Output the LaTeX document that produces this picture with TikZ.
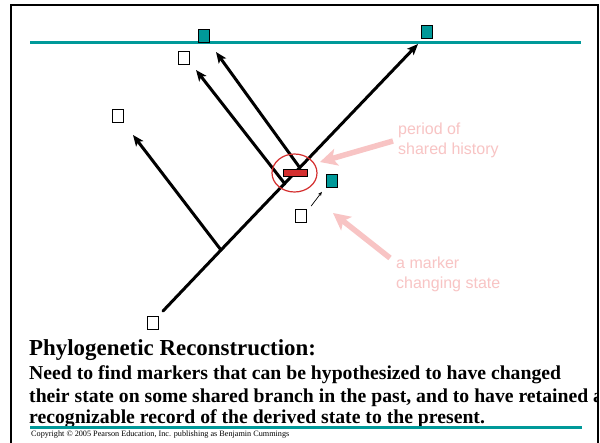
\documentclass[tikz,border=0pt]{standalone}
\usepackage{fontspec}
\setmainfont{Liberation Serif}
\newfontfamily\labelsans{Liberation Sans}
\usetikzlibrary{arrows.meta,calc}

\definecolor{slideteal}{HTML}{009999}
\definecolor{markred}{HTML}{D42F2F}
\definecolor{notepink}{HTML}{F8C4C4}

\tikzset{
  branch/.style={line width=3pt, line cap=round},
  branchtip/.style={branch, -{Stealth[length=11pt, width=9pt, inset=2.5pt]}},
  plainmark/.style={draw=black, fill=white, line width=1.3pt, minimum width=11pt, minimum height=12.5pt, inner sep=0pt},
  derivedmark/.style={plainmark, fill=slideteal},
  notearrow/.style={notepink, line width=5.5pt, -{Stealth[length=17pt, width=17pt, inset=4pt]}},
  notetext/.style={text=notepink, font=\labelsans\fontsize{16}{19}\selectfont, anchor=base west, inner sep=0pt},
  headtext/.style={font=\bfseries\fontsize{22.9}{26}\selectfont, anchor=base west, inner sep=0pt},
  bodytext/.style={font=\bfseries\fontsize{19.7}{23}\selectfont, anchor=base west, inner sep=0pt},
  rule/.style={slideteal, line width=3pt},
}

\begin{document}
\begin{tikzpicture}[x=1pt, y=-1pt]
\useasboundingbox (0,0) rectangle (600,442);
\fill[white] (0,0) rectangle (600,442);

% slide rules
\coordinate (ruleTL) at (30,42);
\coordinate (ruleTR) at (581,42);
\coordinate (ruleBL) at (30,427);
\coordinate (ruleBR) at (582,427);
\draw[rule] (ruleTL) -- (ruleTR);

% tree
\coordinate (root) at (163,311);
\coordinate (n1) at (221,250);
\coordinate (n2) at (285,184);
\coordinate (n3) at (300,168);
\coordinate (tipR) at (418,44);
\coordinate (tipA) at (133,135);
\coordinate (tipB) at (196,70);
\coordinate (tipC) at (216,52);
\draw[branch] (root) -- (n1);
\draw[branchtip] (n1) -- (tipR);
\draw[branchtip] (n1) -- (tipA);
\draw[branchtip] (n2) -- (tipB);
\draw[branchtip] (n3) -- (tipC);

% character states
\node[plainmark] (sRoot) at (153,323) {};
\node[plainmark] (sA) at (118,116) {};
\node[plainmark] (sB) at (184,58) {};
\node[derivedmark] (sC) at (204,36) {};
\node[derivedmark] (sR) at (427,32) {};
\node[plainmark] (sOld) at (301,216) {};
\node[derivedmark] (sNew) at (332,181) {};
\draw[line width=0.7pt, -{Stealth[length=4pt, width=3.5pt]}] ($(sOld.north east)+(4,-3)$) -- ($(sNew.south west)+(-4,4)$);

% change on the shared branch
\node[draw=black, fill=markred, line width=1pt, minimum width=24pt, minimum height=7.5pt, inner sep=0pt] (change) at (295,173) {};
\draw[markred, line width=1.2pt] (294.5,173) ellipse [x radius=22.5, y radius=19];
\coordinate (ringE) at (320,162);

% annotations
\node[notetext] (noteA1) at (398,134) {period of};
\node[notetext] (noteA2) at (398,154) {shared history};
\node[notetext] (noteB1) at (396,268) {a marker};
\node[notetext] (noteB2) at (396,288) {changing state};
\coordinate (tailA) at (393,141);
\coordinate (tailB) at (390,258);
\coordinate (headB) at (333,213);
\draw[notearrow] (tailA) -- (ringE);
\draw[notearrow] (tailB) -- (headB);

% caption
\begin{scope}
\clip (11,5) rectangle (597,442);
\node[headtext] (head) at (29,355) {Phylogenetic Reconstruction:};
\node[bodytext] (body1) at (29,379.5) {Need to find markers that can be hypothesized to have changed};
\node[bodytext] (body2) at (29,402) {their state on some shared branch in the past, and to have retained a};
\node[bodytext] (body3) at (29,423.5) {recognizable record of the derived state to the present.};
\end{scope}
\draw[rule] (ruleBL) -- (ruleBR);
\node[font=\fontsize{8.2}{9}\selectfont, anchor=base west, inner sep=0pt] (copy) at (31,436) {Copyright \textcopyright{} 2005 Pearson Education, Inc. publishing as Benjamin Cummings};

% slide frame
\draw[line width=2pt] (11,443) -- (11,5) -- (598,5) -- (598,443);
\end{tikzpicture}
\end{document}
